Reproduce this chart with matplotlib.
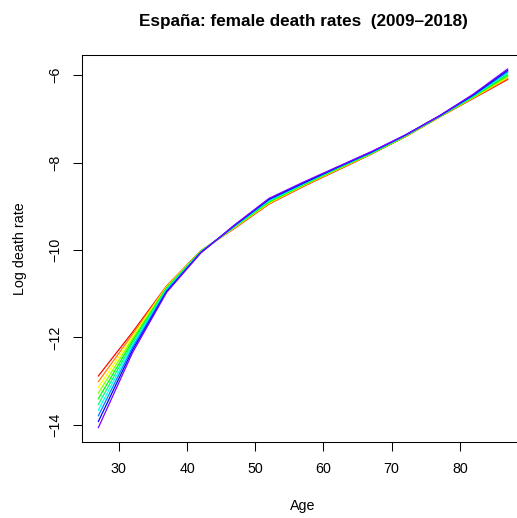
import matplotlib
matplotlib.use("Agg")
import matplotlib.pyplot as plt
import colorsys

plt.rcParams['font.family'] = ['Liberation Sans', 'DejaVu Sans']

ages = [27, 32, 37, 42, 47, 52, 57, 62, 67, 72, 77, 82, 87]
years = list(range(2009, 2019))

# log death rates by year (rows) and age group (columns)
rates = {
    2009: [-12.88, -11.88, -10.82, -10.02, -9.50, -8.95, -8.55, -8.18, -7.81, -7.41, -6.96, -6.53, -6.10],
    2010: [-13.01, -11.93, -10.83, -10.02, -9.49, -8.94, -8.54, -8.17, -7.80, -7.41, -6.96, -6.52, -6.08],
    2011: [-13.14, -11.98, -10.84, -10.03, -9.48, -8.93, -8.53, -8.16, -7.80, -7.40, -6.95, -6.51, -6.05],
    2012: [-13.27, -12.03, -10.86, -10.03, -9.47, -8.91, -8.52, -8.15, -7.79, -7.40, -6.95, -6.50, -6.03],
    2013: [-13.40, -12.08, -10.87, -10.04, -9.46, -8.90, -8.51, -8.14, -7.79, -7.39, -6.95, -6.49, -6.00],
    2014: [-13.53, -12.13, -10.89, -10.04, -9.45, -8.88, -8.50, -8.13, -7.78, -7.39, -6.94, -6.48, -5.97],
    2015: [-13.66, -12.18, -10.91, -10.05, -9.45, -8.87, -8.49, -8.12, -7.77, -7.38, -6.94, -6.47, -5.94],
    2016: [-13.79, -12.23, -10.93, -10.06, -9.44, -8.85, -8.48, -8.12, -7.77, -7.38, -6.94, -6.46, -5.92],
    2017: [-13.92, -12.29, -10.95, -10.06, -9.43, -8.84, -8.47, -8.11, -7.76, -7.37, -6.93, -6.45, -5.89],
    2018: [-14.06, -12.35, -10.97, -10.07, -9.42, -8.82, -8.45, -8.10, -7.75, -7.37, -6.93, -6.43, -5.86],
}

fig = plt.figure(figsize=(5.17, 5.18), dpi=100)
W, H = 517, 518
ax = fig.add_axes([82 / W, 1 - 442 / H, (524 - 82) / W, (442 - 55) / H])

for i, yr in enumerate(years):
    col = colorsys.hsv_to_rgb(i / 12, 1, 1)
    ax.plot(ages, rates[yr], color=col, lw=0.9)

ax.set_xlim(24.6, 89.4)
ax.set_ylim(-14.39, -5.54)
ax.set_xticks([30, 40, 50, 60, 70, 80])
ax.set_yticks([-14, -12, -10, -8, -6])
ax.set_yticklabels(['\u221214', '\u221212', '\u221210', '\u22128', '\u22126'],
                   rotation=90, va='center')
ax.tick_params(direction='out', length=6.2, width=0.75, labelsize=10.3, pad=8)
for s in ax.spines.values():
    s.set_linewidth(0.75)

ax.set_xlabel('Age', fontsize=10.3, labelpad=17)
ax.set_ylabel('Log death rate', fontsize=10.3, labelpad=15)
ax.set_title('España: female death rates  (2009\u20132018)', fontsize=12.3,
             fontweight='bold', pad=21)

fig.savefig('out.png', dpi=100)
